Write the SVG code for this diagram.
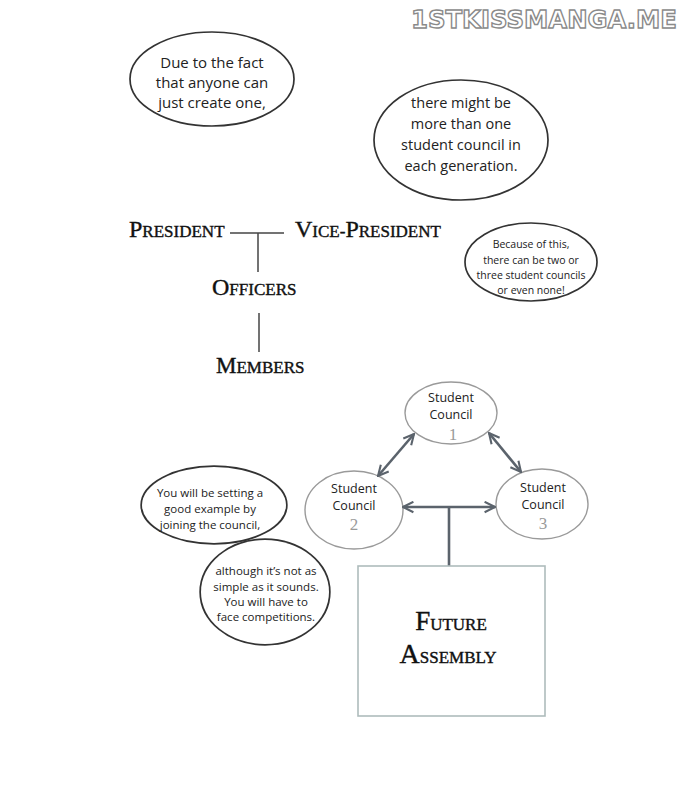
<svg xmlns="http://www.w3.org/2000/svg" width="690" height="794" viewBox="0 0 690 794">
<style>
.bub{fill:#fff;stroke:#333;stroke-width:1.7}
.bt{font-family:"Open Sans","DejaVu Sans",sans-serif;fill:#222;text-anchor:middle}
.sc{fill:#fff;stroke:#9a9a9a;stroke-width:1.4}
.sct{font-family:"Open Sans","DejaVu Sans",sans-serif;font-size:12.5px;fill:#222;text-anchor:middle}
.num{font-family:"Liberation Serif",serif;font-size:17px;fill:#9a9a9a;text-anchor:middle}
.org{font-family:"Liberation Serif","DejaVu Serif",serif;fill:#111;stroke:#111;stroke-width:0.4;font-size:17px}
.big{font-size:24px}
.ln{stroke:#444;stroke-width:1.5;fill:none}
.con{stroke:#5b636c;stroke-width:2.6;fill:none}
</style>
<defs>
<marker id="ah" viewBox="0 0 10 10" refX="9" refY="5" markerWidth="13" markerHeight="13" markerUnits="userSpaceOnUse" orient="auto-start-reverse">
<path d="M1,1 L9,5 L1,9" fill="none" stroke="#5b636c" stroke-width="1.6"/>
</marker>
</defs>
<rect width="690" height="794" fill="#fff"/>

<g id="watermark">
<text x="411" y="28" font-family="'DejaVu Sans','Liberation Sans',sans-serif" font-weight="bold" font-size="25" fill="#fff" stroke="#8a8a8a" stroke-width="1.4" textLength="266" lengthAdjust="spacingAndGlyphs">1STKISSMANGA.ME</text>
</g>

<g id="bubble1">
<ellipse class="bub" cx="212" cy="79" rx="82" ry="47"/>
<text class="bt" font-size="15"><tspan x="212" y="68">Due to the fact</tspan><tspan x="212" y="88">that anyone can</tspan><tspan x="212" y="108">just create one,</tspan></text>
</g>

<g id="bubble2">
<ellipse class="bub" cx="461" cy="140" rx="87" ry="60"/>
<text class="bt" font-size="14.5"><tspan x="461" y="108">there might be</tspan><tspan x="461" y="129">more than one</tspan><tspan x="461" y="150">student council in</tspan><tspan x="461" y="171">each generation.</tspan></text>
</g>

<g id="bubble3">
<ellipse class="bub" cx="531" cy="262" rx="66" ry="39" stroke-width="1.3"/>
<text class="bt" font-size="10.5"><tspan x="531" y="248">Because of this,</tspan><tspan x="531" y="264">there can be two or</tspan><tspan x="531" y="279">three student councils</tspan><tspan x="531" y="294">or even none!</tspan></text>
</g>

<g id="org-connectors">
<line class="ln" x1="230" y1="233" x2="284" y2="233"/>
<line class="ln" x1="258" y1="233" x2="258" y2="272"/>
<line class="ln" x1="259" y1="313" x2="259" y2="352"/>
</g>

<g id="president"><text class="org" x="129" y="237"><tspan class="big">P</tspan>RESIDENT</text></g>
<g id="vice-president"><text class="org" x="295" y="237"><tspan class="big">V</tspan>ICE-<tspan class="big">P</tspan>RESIDENT</text></g>
<g id="officers"><text class="org" x="212" y="295" font-size="17.5"><tspan class="big">O</tspan>FFICERS</text></g>
<g id="members"><text class="org" x="216" y="373"><tspan font-size="23">M</tspan>EMBERS</text></g>

<g id="bubble4">
<ellipse cx="214" cy="505" rx="72" ry="38" fill="none" stroke="#333" stroke-width="3.4"/>
<ellipse cx="265" cy="592" rx="64" ry="52" fill="none" stroke="#333" stroke-width="3.4"/>
<ellipse cx="214" cy="505" rx="72" ry="38" fill="#fff"/>
<ellipse cx="265" cy="592" rx="64" ry="52" fill="#fff"/>
<text class="bt" font-size="11.5"><tspan x="210" y="497">You will be setting a</tspan><tspan x="210" y="513">good example by</tspan><tspan x="210" y="529">joining the council,</tspan></text>
<text class="bt" font-size="11.5"><tspan x="266" y="575">although it’s not as</tspan><tspan x="266" y="591">simple as it sounds.</tspan><tspan x="266" y="606">You will have to</tspan><tspan x="266" y="621">face competitions.</tspan></text>
</g>

<g id="council1">
<ellipse class="sc" cx="451" cy="413" rx="46" ry="31"/>
<text class="sct"><tspan x="451" y="402">Student</tspan><tspan x="451" y="419">Council</tspan></text>
<text class="num" x="453" y="440">1</text>
</g>
<g id="council2">
<ellipse class="sc" cx="354" cy="510" rx="49" ry="39"/>
<text class="sct"><tspan x="354" y="493">Student</tspan><tspan x="354" y="510">Council</tspan></text>
<text class="num" x="354" y="530">2</text>
</g>
<g id="council3">
<ellipse class="sc" cx="542" cy="504" rx="46" ry="35"/>
<text class="sct"><tspan x="543" y="492">Student</tspan><tspan x="543" y="509">Council</tspan></text>
<text class="num" x="543" y="529">3</text>
</g>

<g id="connectors">
<line class="con" x1="414" y1="434" x2="378" y2="476" marker-start="url(#ah)" marker-end="url(#ah)"/>
<line class="con" x1="489" y1="433" x2="521" y2="472" marker-start="url(#ah)" marker-end="url(#ah)"/>
<line class="con" x1="403" y1="507" x2="495" y2="507" marker-start="url(#ah)" marker-end="url(#ah)"/>
<line class="con" x1="449" y1="507" x2="449" y2="566"/>
</g>

<g id="future-assembly">
<rect x="358" y="566" width="187" height="150" fill="#fff" stroke="#aebcbc" stroke-width="1.6"/>
<text class="org" x="451" y="630" text-anchor="middle" font-size="21"><tspan font-size="27">F</tspan>UTURE</text>
<text class="org" x="448" y="663" text-anchor="middle" font-size="21"><tspan font-size="28">A</tspan>SSEMBLY</text>
</g>
</svg>
